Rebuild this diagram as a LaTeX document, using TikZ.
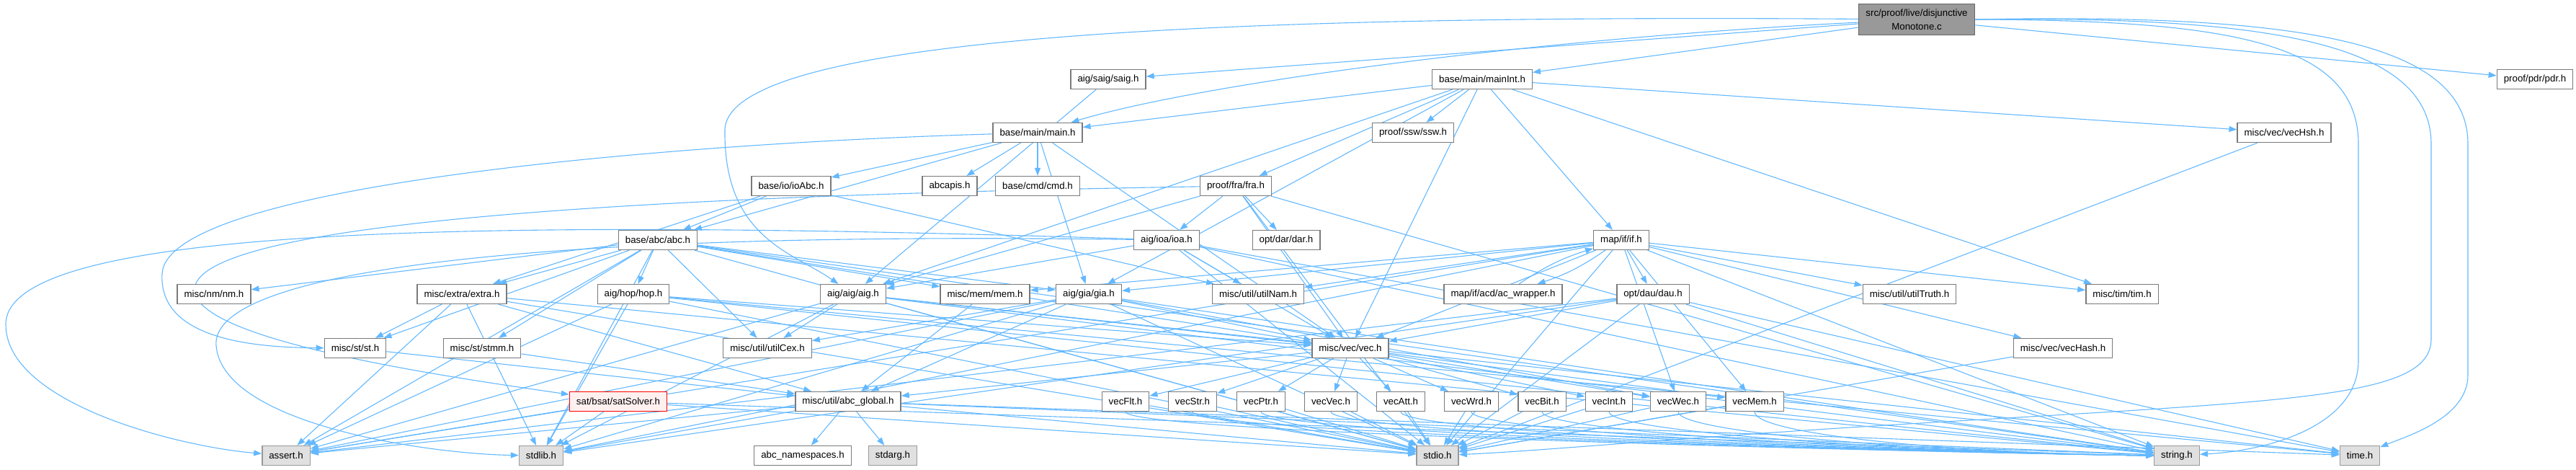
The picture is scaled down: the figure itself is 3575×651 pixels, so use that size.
\documentclass[tikz,border=0pt]{standalone}
\usepackage{fontspec}
\setmainfont{Liberation Sans}
\usetikzlibrary{arrows.meta}
\definecolor{edgecol}{HTML}{63B8FF}
\definecolor{nodeborder}{HTML}{7A7A7A}
\definecolor{sysfill}{HTML}{E0E0E0}
\definecolor{sysborder}{HTML}{999999}
\definecolor{topfill}{HTML}{999999}
\definecolor{topborder}{HTML}{666666}
\definecolor{satfill}{HTML}{FFF0F0}
\definecolor{satborder}{HTML}{FF0000}
\pgfdeclarelayer{background}
\pgfsetlayers{background,main}
\tikzset{
  nb/.style={draw=nodeborder, fill=white, line width=1.3pt, minimum height=27pt, inner xsep=9.5pt, inner ysep=0pt, font=\fontsize{13.3}{16}\selectfont},
  sys/.style={nb, fill=sysfill, draw=sysborder},
  topbox/.style={nb, fill=topfill, draw=topborder, minimum height=43pt, align=center, inner xsep=10pt, font=\fontsize{13.3}{19}\selectfont},
  satbox/.style={nb, fill=satfill, draw=satborder},
  e/.style={draw=edgecol, line width=1.1pt, -{Triangle[length=11pt,width=8pt]}},
}
\begin{document}
\begin{tikzpicture}[x=1pt,y=-1pt]
\useasboundingbox (0,0) rectangle (3575,651);
% row 0
\node[topbox] (top) at (2660,27) {src/proof/live/disjunctive\\Monotone.c};
% row 1
\node[nb] (saig) at (1538,110) {aig/saig/saig.h};
\node[nb] (mainInt) at (2057,110) {base/main/mainInt.h};
\node[nb] (pdr) at (3518,110) {proof/pdr/pdr.h};
% row 2
\node[nb] (main) at (1440,184) {base/main/main.h};
\node[nb] (ssw) at (1961,184) {proof/ssw/ssw.h};
\node[nb] (vecHsh) at (3170,184) {misc/vec/vecHsh.h};
% row 3
\node[nb] (ioAbc) at (1098,258) {base/io/ioAbc.h};
\node[nb] (abcapis) at (1318,258) {abcapis.h};
\node[nb] (cmd) at (1440,258) {base/cmd/cmd.h};
\node[nb] (fra) at (1715,258) {proof/fra/fra.h};
% row 4
\node[nb] (abc) at (913,333) {base/abc/abc.h};
\node[nb] (ioa) at (1619,333) {aig/ioa/ioa.h};
\node[nb] (dar) at (1785,333) {opt/dar/dar.h};
\node[nb] (if) at (2250,333) {map/if/if.h};
% row 5
\node[nb] (nm) at (297,408) {misc/nm/nm.h};
\node[nb] (extra) at (641,408) {misc/extra/extra.h};
\node[nb] (hop) at (879,408) {aig/hop/hop.h};
\node[nb] (aig) at (1184,408) {aig/aig/aig.h};
\node[nb] (mem) at (1367,408) {misc/mem/mem.h};
\node[nb] (gia) at (1511,408) {aig/gia/gia.h};
\node[nb] (utilNam) at (1746,408) {misc/util/utilNam.h};
\node[nb] (acw) at (2086,408) {map/if/acd/ac\_wrapper.h};
\node[nb] (dau) at (2294,408) {opt/dau/dau.h};
\node[nb] (utilTruth) at (2650,408) {misc/util/utilTruth.h};
\node[nb] (tim) at (2945,408) {misc/tim/tim.h};
% row 6
\node[nb] (st) at (493,483) {misc/st/st.h};
\node[nb] (stmm) at (669,483) {misc/st/stmm.h};
\node[nb] (utilCex) at (1065,483) {misc/util/utilCex.h};
\node[nb] (vec) at (1874,483) {misc/vec/vec.h};
\node[nb] (vecHash) at (2863,483) {misc/vec/vecHash.h};
% row 7
\node[satbox] (satSolver) at (858,557) {sat/bsat/satSolver.h};
\node[nb] (abcglobal) at (1177,557) {misc/util/abc\_global.h};
\node[nb] (vecFlt) at (1562,557) {vecFlt.h};
\node[nb] (vecStr) at (1655,557) {vecStr.h};
\node[nb] (vecPtr) at (1750,557) {vecPtr.h};
\node[nb] (vecVec) at (1847,557) {vecVec.h};
\node[nb] (vecAtt) at (1944,557) {vecAtt.h};
\node[nb] (vecWrd) at (2042,557) {vecWrd.h};
\node[nb] (vecBit) at (2140,557) {vecBit.h};
\node[nb] (vecInt) at (2233,557) {vecInt.h};
\node[nb] (vecWec) at (2329,557) {vecWec.h};
\node[nb] (vecMem) at (2435,557) {vecMem.h};
% row 8
\node[sys] (assert) at (397,632) {assert.h};
\node[sys] (stdlib) at (751,632) {stdlib.h};
\node[nb] (abcns) at (1114,632) {abc\_namespaces.h};
\node[sys] (stdarg) at (1239,632) {stdarg.h};
\node[sys] (stdio) at (1995,632) {stdio.h};
\node[sys] (string) at (3021,632) {string.h};
\node[sys] (time) at (3275,632) {time.h};

\begin{pgfonlayer}{background}
\foreach \a/\b in {top/saig, top/mainInt, top/pdr,
  saig/aig,
  mainInt/main, mainInt/tim, mainInt/if, mainInt/aig, mainInt/gia, mainInt/ssw, mainInt/fra, mainInt/vecHsh, mainInt/vec,
  main/abc, main/gia, main/cmd, main/ioAbc, main/abcapis, main/vec,
  ioAbc/abc, ioAbc/extra, ioAbc/utilNam,
  fra/aig, fra/ioa, fra/dar, fra/vec, fra/string, fra/stdio,
  abc/nm, abc/extra, abc/hop, abc/st, abc/stmm, abc/utilCex, abc/vec, abc/gia, abc/mem, abc/stdio, abc/stdlib, abc/string, abc/assert,
  ioa/aig, ioa/vec, ioa/stdio, ioa/string, ioa/time, ioa/utilNam,
  if/stdio, if/stdlib, if/string, if/assert, if/vec, if/mem, if/tim, if/utilNam, if/vecMem, if/utilTruth, if/dau, if/vecHash, if/vecWec, if/gia,
  dau/vec, dau/stdio, dau/stdlib, dau/string, dau/assert, dau/time,
  aig/stdio, aig/stdlib, aig/string, aig/assert, aig/time, aig/vec, aig/utilCex,
  gia/stdio, gia/stdlib, gia/string, gia/assert, gia/vec, gia/vecWec, gia/utilCex, gia/abcglobal,
  hop/stdio, hop/stdlib, hop/string, hop/assert, hop/time, hop/vec,
  extra/stdio, extra/stdlib, extra/string, extra/assert, extra/st, extra/abcglobal,
  mem/abcglobal, st/abcglobal, stmm/abcglobal,
  vecHash/stdio, vecHsh/stdio,
  vec/vecFlt, vec/vecStr, vec/vecPtr, vec/vecVec, vec/vecAtt, vec/vecWrd, vec/vecBit, vec/vecInt, vec/vecWec, vec/vecMem, vec/abcglobal,
  vecFlt/stdio, vecStr/stdio, vecPtr/stdio, vecVec/stdio, vecAtt/stdio, vecWrd/stdio, vecBit/stdio, vecInt/stdio, vecWec/stdio, vecMem/stdio,
  abcglobal/stdio, abcglobal/stdlib, abcglobal/assert, abcglobal/stdarg, abcglobal/string, abcglobal/time, abcglobal/abcns,
  satSolver/assert, satSolver/stdlib, satSolver/stdio, satSolver/string}
  \draw[e] (\a) -- (\b);
% vec* to string.h, routed below
\foreach \a in {vecFlt, vecStr, vecPtr, vecVec, vecAtt, vecWrd, vecBit, vecInt, vecWec, vecMem}
  \draw[e] (\a.south) .. controls +(0,30) and +(-300,-4) .. (string.west);
% long curved edges
\draw[e] (top) .. controls (2100,55) and (1650,120) .. (main);
\draw[e] (top) .. controls (1700,20) and (1010,50) .. (1006,180) .. controls (1004,330) and (1100,350) .. (aig);
\draw[e] (top.east) .. controls (3100,28) and (3273,60) .. (3273,200) -- (3273,500) .. controls (3273,590) and (3150,625) .. (string);
\draw[e] (top.east) .. controls (3150,22) and (3374,60) .. (3374,200) -- (3374,470) .. controls (3374,550) and (3200,555) .. (2700,585) .. controls (2350,605) and (2150,625) .. (stdio);
\draw[e] (top.east) .. controls (3200,18) and (3425,60) .. (3425,200) -- (3425,520) .. controls (3425,580) and (3340,605) .. (time);
\draw[e] (main) .. controls (900,200) and (230,260) .. (225,380) .. controls (220,470) and (350,482) .. (st);
\draw[e] (fra) .. controls (1000,270) and (280,300) .. (270,400) .. controls (265,470) and (600,520) .. (satSolver);
\draw[e] (ioa) .. controls (600,300) and (8,320) .. (8,450) .. controls (8,560) and (250,620) .. (assert);
\draw[e] (ioa) .. controls (700,320) and (290,380) .. (300,480) .. controls (310,590) and (600,630) .. (stdlib);
\draw[e] (if) to[bend left=8] (acw);
\draw[e] (acw) to[bend left=8] (if);
\end{pgfonlayer}
\end{tikzpicture}
\end{document}
